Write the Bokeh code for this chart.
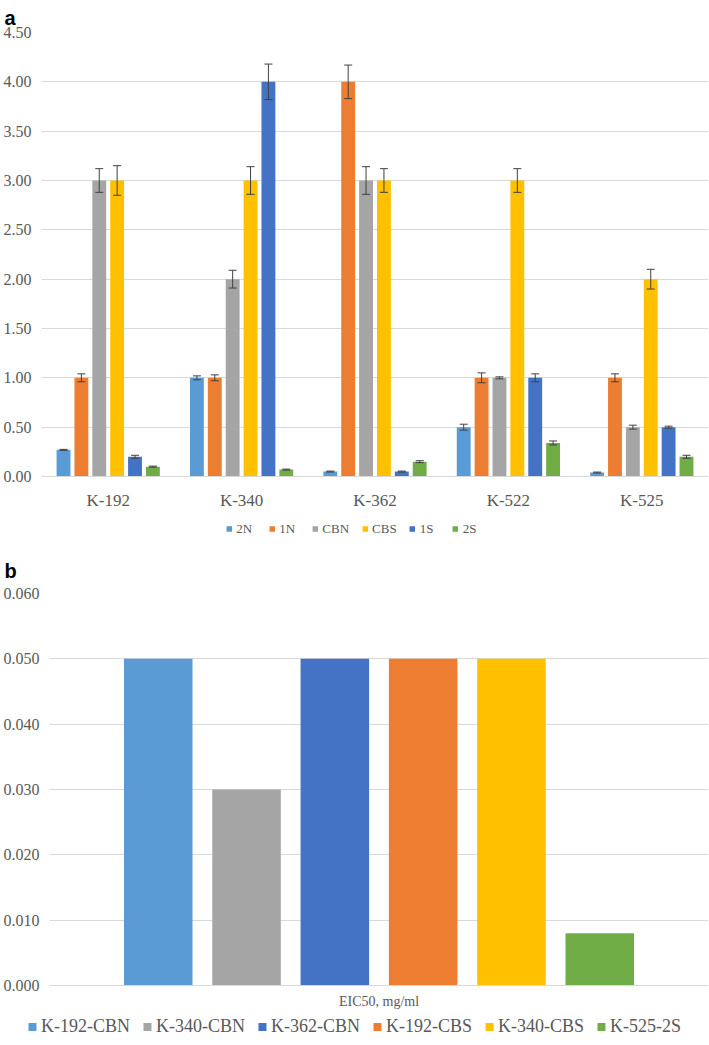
from bokeh.plotting import figure
from bokeh.models import (FactorRange, Range1d, Legend, LegendItem, Whisker,
                          ColumnDataSource, NumeralTickFormatter, FixedTicker, TeeHead)
from bokeh.transform import dodge
from bokeh.layouts import column
from bokeh.embed import file_html
from bokeh.resources import INLINE

# ---------------- data: panel a ----------------
strains = ["K-192", "K-340", "K-362", "K-522", "K-525"]
series_a = ["2N", "1N", "CBN", "CBS", "1S", "2S"]
colors_a = ["#5B9BD5", "#ED7D31", "#A5A5A5", "#FFC000", "#4472C4", "#70AD47"]

val_2N = [0.27, 1.00, 0.05, 0.50, 0.04]
err_2N = [0.005, 0.02, 0.005, 0.03, 0.005]
val_1N = [1.00, 1.00, 4.00, 1.00, 1.00]
err_1N = [0.04, 0.03, 0.17, 0.05, 0.04]
val_CBN = [3.00, 2.00, 3.00, 1.00, 0.50]
err_CBN = [0.12, 0.09, 0.14, 0.01, 0.02]
val_CBS = [3.00, 3.00, 3.00, 3.00, 2.00]
err_CBS = [0.15, 0.14, 0.12, 0.12, 0.10]
val_1S = [0.20, 4.00, 0.05, 1.00, 0.50]
err_1S = [0.015, 0.18, 0.005, 0.04, 0.01]
val_2S = [0.10, 0.07, 0.15, 0.34, 0.20]
err_2S = [0.005, 0.005, 0.01, 0.02, 0.015]

values_a = [val_2N, val_1N, val_CBN, val_CBS, val_1S, val_2S]
errors_a = [err_2N, err_1N, err_CBN, err_CBS, err_1S, err_2S]
yticks_a = [0.0, 0.5, 1.0, 1.5, 2.0, 2.5, 3.0, 3.5, 4.0, 4.5]

# ---------------- data: panel b ----------------
category_b = ["EIC50, mg/ml"]
series_b = ["K-192-CBN", "K-340-CBN", "K-362-CBN", "K-192-CBS", "K-340-CBS", "K-525-2S"]
colors_b = ["#5B9BD5", "#A5A5A5", "#4472C4", "#ED7D31", "#FFC000", "#70AD47"]
values_b = [0.050, 0.030, 0.050, 0.050, 0.050, 0.008]
yticks_b = [0.0, 0.01, 0.02, 0.03, 0.04, 0.05, 0.06]

SERIF = "Liberation Serif"
TXT = "#595959"
GRID = "#D9D9D9"
STEP = 0.134
BARW = 0.104


def style(p, fmt, ticks, xlabel_size, xstandoff, ylabel_size, ystandoff):
    p.outline_line_color = None
    p.xgrid.grid_line_color = None
    p.ygrid.grid_line_color = GRID
    p.ygrid.grid_line_width = 1
    p.yaxis.ticker = FixedTicker(ticks=ticks)
    p.yaxis.formatter = NumeralTickFormatter(format=fmt)
    p.yaxis.axis_line_color = None
    p.yaxis.major_tick_line_color = None
    p.yaxis.minor_tick_line_color = None
    p.yaxis.major_tick_out = 0
    p.yaxis.major_tick_in = 0
    p.yaxis.minor_tick_out = 0
    p.yaxis.major_label_standoff = ystandoff
    p.yaxis.major_label_text_font = SERIF
    p.yaxis.major_label_text_font_size = ylabel_size
    p.yaxis.major_label_text_color = TXT
    p.xaxis.axis_line_color = GRID
    p.xaxis.major_tick_line_color = None
    p.xaxis.minor_tick_line_color = None
    p.xaxis.major_tick_out = 0
    p.xaxis.major_tick_in = 0
    p.xaxis.major_label_standoff = xstandoff
    p.xaxis.major_label_text_font = SERIF
    p.xaxis.major_label_text_font_size = xlabel_size
    p.xaxis.major_label_text_color = TXT
    p.title.text_font = "Liberation Sans"
    p.title.text_font_style = "bold"
    p.title.text_font_size = "20px"
    p.title.text_color = "#000000"
    p.title.align = "left"


def legend_strip(names, cols, height, glyph, font_size, label_h, spacing):
    # a strip that only carries the legend; its proxy glyphs lie outside the visible range
    lf = figure(width=708, height=height, x_range=Range1d(0, 1), y_range=Range1d(0, 1),
                x_axis_type=None, y_axis_type=None, output_backend="svg",
                toolbar_location=None, frame_align=False,
                min_border_top=0, min_border_bottom=0, min_border_left=0, min_border_right=0)
    lf.outline_line_color = None
    lf.grid.visible = False
    items = []
    for name, col in zip(names, cols):
        r = lf.vbar(x=[-100], top=[-100], bottom=[-101], width=0.1,
                    fill_color=col, line_color=None)
        items.append(LegendItem(label=name, renderers=[r]))
    leg = Legend(items=items, orientation="horizontal", location="center",
                 glyph_width=glyph, glyph_height=glyph, label_standoff=4, spacing=spacing,
                 padding=0, margin=0, border_line_color=None, background_fill_alpha=0,
                 label_text_font=SERIF, label_text_font_size=font_size,
                 label_text_color=TXT, label_height=label_h)
    lf.add_layout(leg)
    return lf


# ---------------- panel a ----------------
pa = figure(x_range=FactorRange(*strains, range_padding=0, factor_padding=0),
            y_range=Range1d(0, 4.5), width=708, height=512, title="a",
            output_backend="svg", toolbar_location=None, frame_align=False,
            min_border_top=32, min_border_bottom=33, min_border_left=38, min_border_right=0)
style(pa, "0.00", yticks_a, "17px", 14, "16px", 10)
pa.title.standoff = 8
pa.title.offset = -37

for i, (name, col, vals, errs) in enumerate(zip(series_a, colors_a, values_a, errors_a)):
    off = (i - 2.5) * STEP
    src = ColumnDataSource(dict(x=strains, top=vals,
                                upper=[v + e for v, e in zip(vals, errs)],
                                lower=[v - e for v, e in zip(vals, errs)]))
    pa.vbar(x=dodge("x", off, range=pa.x_range), top="top", width=BARW,
            source=src, fill_color=col, line_color=None)
    w = Whisker(source=src, base=dodge("x", off, range=pa.x_range), upper="upper",
                lower="lower", line_color="#404040", line_width=1, level="overlay",
                upper_head=TeeHead(size=8, line_color="#404040", line_width=1),
                lower_head=TeeHead(size=8, line_color="#404040", line_width=1))
    pa.add_layout(w)

leg_a = legend_strip(series_a, colors_a, 33, 7, "13px", 14, 12)

# ---------------- panel b ----------------
pb = figure(x_range=FactorRange(*category_b, range_padding=0, factor_padding=0),
            y_range=Range1d(0, 0.06), width=708, height=466, title="b",
            output_backend="svg", toolbar_location=None, frame_align=False,
            min_border_top=45, min_border_bottom=24, min_border_left=46, min_border_right=0)
style(pb, "0.000", yticks_b, "14px", 8, "16px", 10)
pb.title.standoff = 24
pb.title.offset = -45

for i, (name, col, v) in enumerate(zip(series_b, colors_b, values_b)):
    off = (i - 2.5) * STEP
    src = ColumnDataSource(dict(x=category_b, top=[v]))
    pb.vbar(x=dodge("x", off, range=pb.x_range), top="top", width=BARW,
            source=src, fill_color=col, line_color=None)

leg_b = legend_strip(series_b, colors_b, 30, 10, "18px", 18, 12)

layout = column(pa, leg_a, pb, leg_b, spacing=0)
open("out.html", "w").write(file_html(layout, INLINE))
